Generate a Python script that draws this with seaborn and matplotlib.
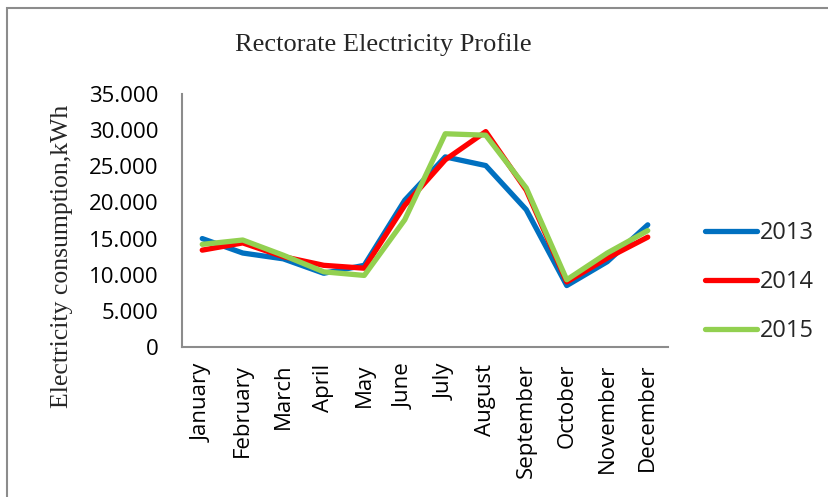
import matplotlib
matplotlib.use("Agg")
import matplotlib.pyplot as plt
from matplotlib.patches import Rectangle
from matplotlib.ticker import FuncFormatter
import seaborn as sns
import pandas as pd

months = ["January", "February", "March", "April", "May", "June",
          "July", "August", "September", "October", "November", "December"]
kwh_2013 = [15000, 13000, 12200, 10200, 11300, 20300, 26300, 25100, 19000, 8500, 11800, 16900]
kwh_2014 = [13400, 14400, 12500, 11300, 10900, 19600, 25900, 29800, 21700, 9000, 12300, 15200]
kwh_2015 = [14200, 14800, 12700, 10400, 9900, 17600, 29500, 29300, 22000, 9300, 13000, 16100]
years = ["2013", "2014", "2015"]
colors = ["#0070C0", "#FF0000", "#92D050"]

df = pd.DataFrame({
    "month": months * 3,
    "kwh": kwh_2013 + kwh_2014 + kwh_2015,
    "year": [y for y in years for _ in months],
})
df["pos"] = list(range(len(months))) * 3

sns.set_theme(style="white")
plt.rcParams["font.family"] = ["Open Sans", "DejaVu Sans"]

fig = plt.figure(figsize=(8.29, 4.97), dpi=100)
fig.patches.append(Rectangle((7 / 829, -0.1), 1.2, 1 - 8 / 497 + 0.1,
                             transform=fig.transFigure, fill=False,
                             edgecolor="#8c8c8c", linewidth=1.5, zorder=0))

ax = fig.add_axes([182 / 829, 1 - 347 / 497, (668 - 182) / 829, (347 - 94) / 497])
sns.lineplot(data=df, x="pos", y="kwh", hue="year", palette=colors,
             linewidth=3.8, sort=False, ax=ax, legend=True)

ax.set_xlim(-0.5, len(months) - 0.5)
ax.set_ylim(0, 35000)
ax.set_yticks(range(0, 35001, 5000))
ax.yaxis.set_major_formatter(FuncFormatter(
    lambda v, _: "0" if v == 0 else f"{int(v):,}".replace(",", ".")))
ax.set_xticks(range(len(months)))
ax.set_xticklabels(months, rotation=90)
ax.tick_params(axis="both", labelsize=16, length=0, colors="black")
ax.tick_params(axis="x", pad=12)
ax.tick_params(axis="y", pad=17)
ax.set_xlabel("")
ax.set_ylabel("")
fig.text(62 / 829, 1 - 256 / 497, "Electricity consumption,kWh",
         family="Liberation Serif", fontsize=18.5, rotation=90,
         ha="center", va="center")
for side in ["top", "right"]:
    ax.spines[side].set_visible(False)
for side in ["left", "bottom"]:
    ax.spines[side].set_color("#8c8c8c")
    ax.spines[side].set_linewidth(1.5)

fig.text(383 / 829, 1 - 45 / 497, "Rectorate Electricity Profile",
         family="Liberation Serif", fontsize=19, ha="center", va="center")

leg = ax.legend(loc="center left", bbox_to_anchor=(684 / 829, 1 - 282 / 497),
                bbox_transform=fig.transFigure, frameon=False, fontsize=17,
                handlelength=2.2, labelspacing=1.05, handletextpad=0.1)
for line in leg.get_lines():
    line.set_linewidth(3.8)
    line.set_solid_capstyle("round")

fig.savefig("out.png", dpi=100)
